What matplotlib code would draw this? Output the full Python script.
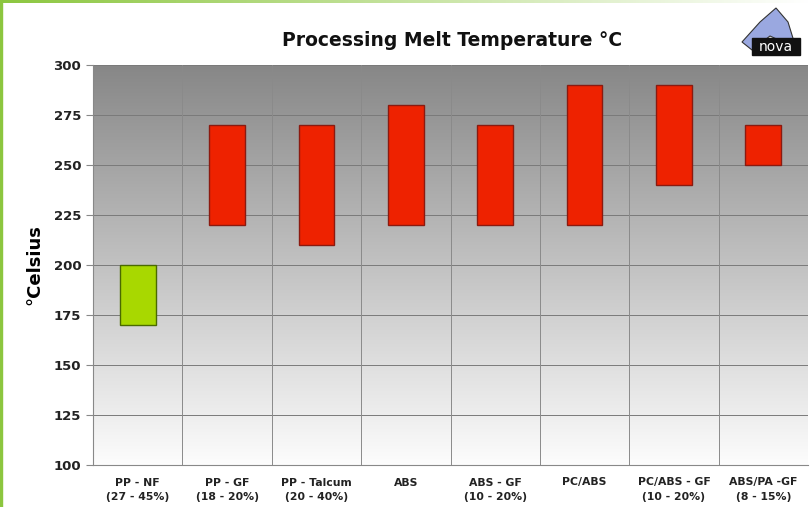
import matplotlib.pyplot as plt
import numpy as np
from matplotlib.patches import Polygon, Rectangle

categories = ["PP - NF\n(27 - 45%)", "PP - GF\n(18 - 20%)", "PP - Talcum\n(20 - 40%)",
              "ABS", "ABS - GF\n(10 - 20%)", "PC/ABS", "PC/ABS - GF\n(10 - 20%)",
              "ABS/PA -GF\n(8 - 15%)"]
low_temp = [170, 220, 210, 220, 220, 220, 240, 250]
high_temp = [200, 270, 270, 280, 270, 290, 290, 270]
bar_colors = ["#a8d800"] + ["#ee2200"] * 7
edge_colors = ["#4a6a00"] + ["#8a1a10"] * 7

fig = plt.figure(figsize=(8.1, 5.07), dpi=100)
fig.patch.set_facecolor("white")
ax = fig.add_axes([93 / 810, 42 / 507, 715 / 810, 400 / 507])

# gray-to-white background gradient (top darker)
shade = np.linspace(0.53, 0.99, 256)
grad = np.dstack([shade, shade, shade]).reshape(256, 1, 3)
ax.imshow(grad, aspect="auto", extent=[-0.5, len(categories) - 0.5, 100, 300],
          zorder=0, origin="upper")

x = np.arange(len(categories))
heights = [h - l for h, l in zip(high_temp, low_temp)]
ax.bar(x, heights, bottom=low_temp, width=0.40, color=bar_colors,
       edgecolor=edge_colors, linewidth=1.0, zorder=3)

ax.set_xlim(-0.5, len(categories) - 0.5)
ax.set_ylim(100, 300)
ax.set_yticks(range(100, 301, 25))
ax.set_xticks(x)
ax.set_xticklabels(categories, fontsize=7.8, fontweight="bold", color="#222222",
                   linespacing=1.6, va="top")
ax.tick_params(axis="y", labelsize=9.5, length=5, color="#888888", width=0.8)
for lbl in ax.get_yticklabels():
    lbl.set_fontweight("bold")
    lbl.set_color("#222222")
ax.tick_params(axis="x", length=0, pad=9)

for yv in range(125, 301, 25):
    ax.axhline(yv, color="#7a7a7a", linewidth=0.7, zorder=1)
for xv in np.arange(0.5, len(categories) - 0.5, 1):
    ax.axvline(xv, color="#8a8a8a", linewidth=0.7, zorder=1)

for side in ["top", "right"]:
    ax.spines[side].set_visible(False)
ax.spines["left"].set_color("#888888")
ax.spines["bottom"].set_color("#888888")

ax.set_ylabel("°Celsius", fontsize=13, fontweight="bold", labelpad=7)
fig.text(452 / 810, 1 - 40 / 507, "Processing Melt Temperature °C",
         ha="center", va="center", fontsize=13.5, fontweight="bold", color="#111111")

# green frame (left edge and top fade)
fig.add_artist(Rectangle((0, 0), 2 / 810, 1, transform=fig.transFigure,
                         color="#8cc63f", zorder=10))
fade = np.linspace(0, 1, 256)
top_rgb = np.dstack([0.55 + 0.45 * fade, 0.78 + 0.22 * fade, 0.25 + 0.75 * fade])
fax = fig.add_axes([0, 1 - 3 / 507, 1, 3 / 507])
fax.imshow(top_rgb, aspect="auto")
fax.axis("off")

# small logo
fig.add_artist(Polygon([(742 / 810, 1 - 42 / 507), (760 / 810, 1 - 22 / 507),
                        (776 / 810, 1 - 8 / 507), (788 / 810, 1 - 22 / 507),
                        (796 / 810, 1 - 48 / 507), (770 / 810, 1 - 36 / 507),
                        (752 / 810, 1 - 50 / 507)], closed=True,
                       transform=fig.transFigure, facecolor="#9aa8e0",
                       edgecolor="#333333", linewidth=0.8, zorder=10))
fig.add_artist(Rectangle((752 / 810, 1 - 55 / 507), 48 / 810, 17 / 507,
                         transform=fig.transFigure, color="#111111", zorder=11))
fig.text(776 / 810, 1 - 47 / 507, "nova", ha="center", va="center",
         fontsize=10, color="white", zorder=12)

fig.savefig("out.png", dpi=100)
